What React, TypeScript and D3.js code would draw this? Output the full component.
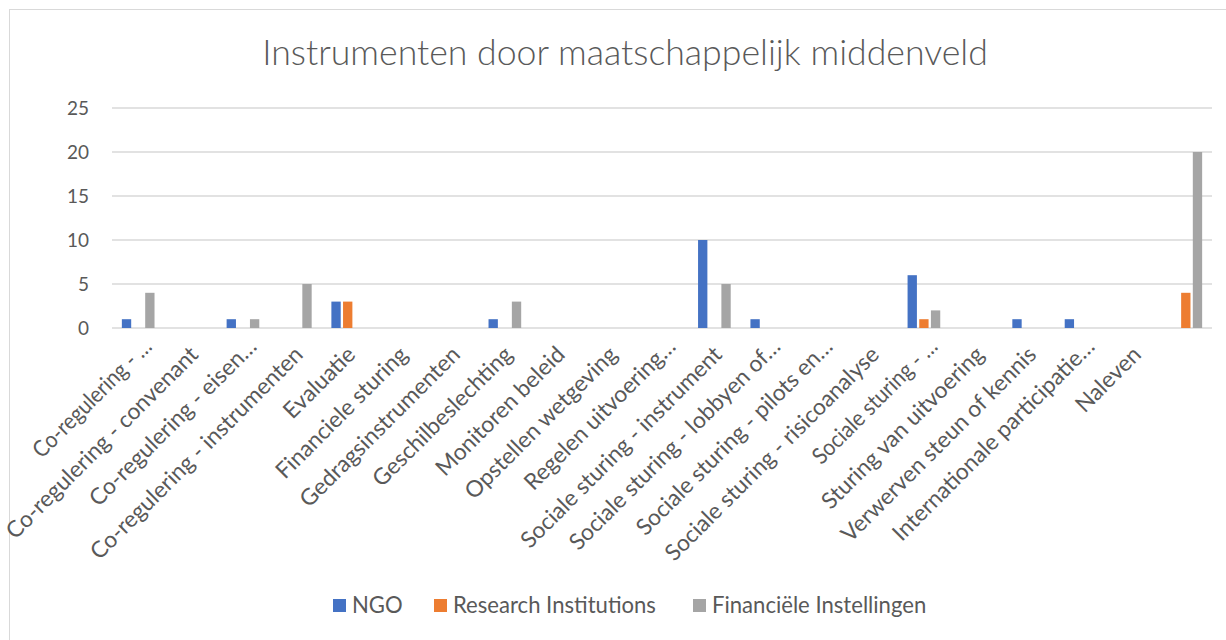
import React, { useEffect, useRef } from 'react';
import * as d3 from 'd3';

const categories = [
  "Co-regulering - …",
  "Co-regulering - convenant",
  "Co-regulering - eisen…",
  "Co-regulering - instrumenten",
  "Evaluatie",
  "Financiele sturing",
  "Gedragsinstrumenten",
  "Geschilbeslechting",
  "Monitoren beleid",
  "Opstellen wetgeving",
  "Regelen uitvoering…",
  "Sociale sturing - instrument",
  "Sociale sturing - lobbyen of…",
  "Sociale sturing - pilots en…",
  "Sociale sturing - risicoanalyse",
  "Sociale sturing - …",
  "Sturing van uitvoering",
  "Verwerven steun of kennis",
  "Internationale participatie…",
  "Naleven",
  " ",
];
const seriesNames = ["NGO", "Research Institutions", "Financiële Instellingen"];
const ngo = [1, 0, 1, 0, 3, 0, 0, 1, 0, 0, 0, 10, 1, 0, 0, 6, 0, 1, 1, 0, 0];
const research = [0, 0, 0, 0, 3, 0, 0, 0, 0, 0, 0, 0, 0, 0, 0, 1, 0, 0, 0, 0, 4];
const financial = [4, 0, 1, 5, 0, 0, 0, 3, 0, 0, 0, 5, 0, 0, 0, 2, 0, 0, 0, 0, 20];
const yTicks = [0, 5, 10, 15, 20, 25];
const title = "Instrumenten door maatschappelijk middenveld";
const colors = ["#4472C4", "#ED7D31", "#A5A5A5"];

const W = 1226;
const H = 640;
const FONT = "Lato, 'Open Sans', sans-serif";
const TEXT = "#595959";
const GRID = "#D9D9D9";

function fitSize(svg: any, str: string, target: number, weight = 400) {
  const t = svg.append("text").attr("font-family", FONT).attr("font-size", 20).attr("font-weight", weight).text(str);
  const w = (t.node() as SVGTextElement).getComputedTextLength();
  t.remove();
  return w > 0 ? (20 * target) / w : 20;
}

export default function App() {
  const ref = useRef<SVGSVGElement | null>(null);
  useEffect(() => {
    document.body.style.margin = "0";
    const svg = d3.select(ref.current);
    svg.selectAll("*").remove();

    const titleSize = fitSize(svg, title, 726, 300);
    const labelSize = fitSize(svg, "Sociale sturing - risicoanalyse", 292);
    const tickSize = fitSize(svg, "25", 22);
    const legendSize = fitSize(svg, "Research Institutions", 203);

    svg.append("rect").attr("x", 9.5).attr("y", 9.5).attr("width", 1240).attr("height", 660)
      .attr("fill", "#fff").attr("stroke", GRID).attr("stroke-width", 1);

    const x0 = d3.scaleBand<string>().domain(categories).range([112, 1212]).paddingInner(0).paddingOuter(0);
    const groupW = 35;
    const x1 = d3.scaleBand<string>().domain(seriesNames).range([0, groupW]).paddingInner(0.2).paddingOuter(0.1);
    const y = d3.scaleLinear().domain([0, 25]).range([328, 108]);

    // gridlines
    svg.append("g").selectAll("line").data(yTicks).join("line")
      .attr("x1", 112).attr("x2", 1212)
      .attr("y1", (d) => y(d)).attr("y2", (d) => y(d))
      .attr("stroke", GRID).attr("stroke-width", 1.6);

    // y tick labels
    svg.append("g").selectAll("text").data(yTicks).join("text")
      .attr("x", 89).attr("y", (d) => y(d))
      .attr("dy", "0.36em")
      .attr("text-anchor", "end")
      .attr("font-family", FONT).attr("font-size", tickSize).attr("fill", TEXT)
      .text((d) => String(d));

    // bars
    const seriesVals = [ngo, research, financial];
    const off = (x0.bandwidth() - groupW) / 2;
    seriesVals.forEach((vals, si) => {
      svg.append("g").selectAll("rect").data(vals.map((v, i) => ({ v, c: categories[i] })).filter((d) => d.v > 0))
        .join("rect")
        .attr("x", (d) => (x0(d.c) as number) + off + (x1(seriesNames[si]) as number))
        .attr("width", x1.bandwidth())
        .attr("y", (d) => y(d.v))
        .attr("height", (d) => y(0) - y(d.v))
        .attr("fill", colors[si]);
    });

    // category labels
    const labels = svg.append("g").selectAll("text").data(categories).join("text")
      .attr("transform", (c) => {
        const cx = (x0(c) as number) + x0.bandwidth() / 2;
        const ell = c.endsWith("…");
        const tx = cx + (ell ? 15 : 9);
        const ty = ell ? 348 : 356;
        return `translate(${tx},${ty}) rotate(-45)`;
      })
      .attr("text-anchor", "end")
      .attr("font-family", FONT).attr("font-size", labelSize).attr("fill", TEXT)
      .text((c) => c);
    labels.each(function (c) {
      if (c.endsWith("- …")) {
        const el = this as SVGTextElement;
        const len = el.getComputedTextLength();
        d3.select(el).attr("textLength", len - 16).attr("lengthAdjust", "spacingAndGlyphs");
      }
    });

    // title
    svg.append("text").attr("x", 625).attr("y", 65).attr("text-anchor", "middle")
      .attr("font-family", FONT).attr("font-weight", 300).attr("font-size", titleSize).attr("fill", TEXT)
      .text(title);

    // legend
    const legendX = [333, 434, 693];
    const lg = svg.append("g");
    seriesNames.forEach((s, i) => {
      lg.append("rect").attr("x", legendX[i]).attr("y", 599).attr("width", 13).attr("height", 13).attr("fill", colors[i]);
      lg.append("text").attr("x", legendX[i] + 19).attr("y", 613)
        .attr("font-family", FONT).attr("font-size", legendSize).attr("fill", TEXT).text(s);
    });
  }, []);
  return <svg ref={ref} width={W} height={H} style={{ display: "block" }} />;
}
